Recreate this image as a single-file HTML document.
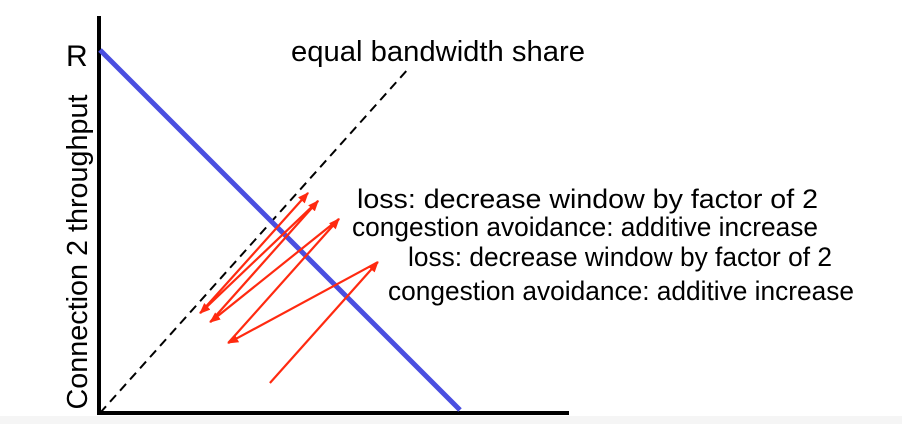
<!DOCTYPE html>
<html><head><meta charset="utf-8"><style>
html,body{margin:0;padding:0;background:#fff;width:902px;height:424px;overflow:hidden}
text{font-family:"Liberation Sans",sans-serif;fill:#000}
</style></head><body>
<svg id="chart" width="902" height="424" viewBox="0 0 902 424">
<defs><marker id="ah" markerWidth="11" markerHeight="9" refX="10" refY="4.5" orient="auto" markerUnits="userSpaceOnUse"><path d="M0,0 L11,4.5 L0,9 z" fill="#ff2a10"/></marker></defs>
<rect x="0" y="416" width="902" height="8" fill="#f5f5f5"/>
<line x1="99" y1="16" x2="99" y2="415" stroke="#000" stroke-width="4"/>
<line x1="97" y1="413" x2="569" y2="413" stroke="#000" stroke-width="4"/>
<text x="66" y="66" font-size="30">R</text>
<text transform="translate(87,252) rotate(-90)" text-anchor="middle" font-size="29" textLength="315" lengthAdjust="spacingAndGlyphs">Connection 2 throughput</text>
<text x="291" y="61" font-size="29" textLength="294" lengthAdjust="spacingAndGlyphs">equal bandwidth share</text>
<text x="357" y="208" font-size="27" textLength="461" lengthAdjust="spacingAndGlyphs">loss: decrease window by factor of 2</text>
<text x="352" y="236" font-size="27" textLength="466" lengthAdjust="spacingAndGlyphs">congestion avoidance: additive increase</text>
<text x="408" y="266" font-size="27" textLength="424" lengthAdjust="spacingAndGlyphs">loss: decrease window by factor of 2</text>
<text x="388" y="300" font-size="27" textLength="466" lengthAdjust="spacingAndGlyphs">congestion avoidance: additive increase</text>
<g id="marks"></g>
</svg>
<script>
const xs=[0.472,0.772,0.356,0.664,0.306,0.606,0.278,0.578];
const ys=[0.075,0.411,0.186,0.531,0.244,0.581,0.269,0.603];
const fairX=[0,0.861];
const fairY=[0,0.953];
const capX=[0,1];
const X0=100,Y0=410,S=360;
const sx=v=>X0+v*S, sy=v=>Y0-v*S;
const g=document.getElementById('marks');
const NS='http://www.w3.org/2000/svg';
function ln(x1,y1,x2,y2){const l=document.createElementNS(NS,'line');l.setAttribute('x1',x1);l.setAttribute('y1',y1);l.setAttribute('x2',x2);l.setAttribute('y2',y2);g.appendChild(l);return l;}
let d=ln(sx(fairX[0]),sy(fairY[0])+3,sx(fairX[1]),sy(fairY[1]));
d.setAttribute('stroke','#000');d.setAttribute('stroke-width','2');d.setAttribute('stroke-dasharray','9,6');


let b=ln(sx(capX[0]),sy(1-capX[0]),sx(capX[1]),sy(1-capX[1]));
b.setAttribute('stroke','#4a4ee0');b.setAttribute('stroke-width','5');


for(let i=0;i<xs.length-1;i++){
  const a=ln(sx(xs[i]),sy(ys[i]),sx(xs[i+1]),sy(ys[i+1]));
  a.setAttribute('stroke','#ff2a10');a.setAttribute('stroke-width','2.2');a.setAttribute('marker-end','url(#ah)');
  
  
}
</script>
</body></html>
